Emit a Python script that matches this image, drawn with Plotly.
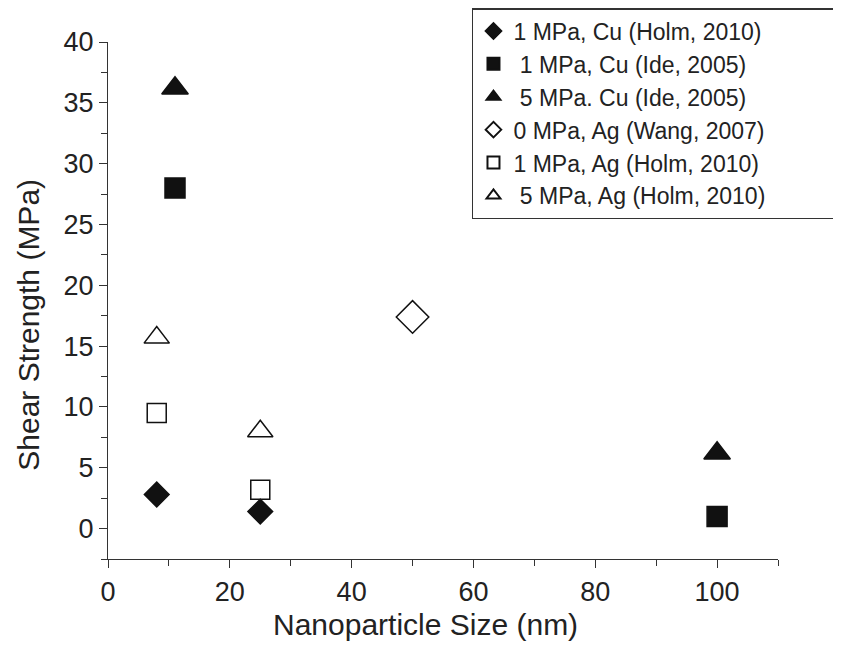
import plotly.graph_objects as go

# Data
names = [
    "1 MPa, Cu (Holm, 2010)",
    " 1 MPa, Cu (Ide, 2005)",
    " 5 MPa. Cu (Ide, 2005)",
    "0 MPa, Ag (Wang, 2007)",
    "1 MPa, Ag (Holm, 2010)",
    " 5 MPa, Ag (Holm, 2010)",
]
cu_holm_x = [8, 25]
cu_holm_y = [2.8, 1.4]
cu_ide1_x = [11, 100]
cu_ide1_y = [28, 1.0]
cu_ide5_x = [11, 100]
cu_ide5_y = [36.2, 6.2]
ag_wang_x = [50]
ag_wang_y = [17.4]
ag_holm1_x = [8, 25]
ag_holm1_y = [9.5, 3.2]
ag_holm5_x = [8, 25]
ag_holm5_y = [15.7, 8.0]

x_title = "Nanoparticle Size (nm)"
y_title = "Shear Strength (MPa)"

series = [
    (cu_holm_x, cu_holm_y, "diamond", 19),
    (cu_ide1_x, cu_ide1_y, "square", 20),
    (cu_ide5_x, cu_ide5_y, "triangle-up", 23),
    (ag_wang_x, ag_wang_y, "diamond-open", 25),
    (ag_holm1_x, ag_holm1_y, "square-open", 19),
    (ag_holm5_x, ag_holm5_y, "triangle-up-open", 22),
]

FONT = "Liberation Sans, Arial, sans-serif"
INK = "#222222"

fig = go.Figure()
for name, (xs, ys, sym, sz) in zip(names, series):
    fig.add_trace(go.Scatter(
        x=xs, y=ys, mode="markers", name=name,
        marker=dict(symbol=sym, size=sz, color="#111111",
                    line=dict(color="#111111", width=1.5)),
    ))

axis_common = dict(
    showline=True, linecolor="#333333", linewidth=1.3,
    ticks="outside", ticklen=8, tickwidth=1.3, tickcolor="#333333",
    showgrid=False, zeroline=False, mirror=False,
    tickfont=dict(family=FONT, size=27, color=INK),
)

fig.update_xaxes(
    range=[0, 110], dtick=20, tick0=0,
    minor=dict(dtick=10, ticks="outside", ticklen=6, tickwidth=1.3, tickcolor="#333333"),
    **axis_common,
)
fig.update_yaxes(
    range=[-2.5, 40], dtick=5, tick0=0,
    minor=dict(dtick=2.5, ticks="outside", ticklen=6, tickwidth=1.3, tickcolor="#333333"),
    **axis_common,
)

fig.add_annotation(text=x_title, xref="paper", yref="paper", x=0.474, y=-0.126,
                   xanchor="center", yanchor="middle", showarrow=False,
                   font=dict(family=FONT, size=30, color=INK))
fig.add_annotation(text=y_title, xref="paper", yref="paper", x=-0.118, y=0.453,
                   xanchor="center", yanchor="middle", showarrow=False, textangle=-90,
                   font=dict(family=FONT, size=30, color=INK))

fig.update_layout(
    width=833, height=638,
    margin=dict(l=100, r=63, t=34, b=87, autoexpand=False),
    plot_bgcolor="white", paper_bgcolor="white",
    legend=dict(
        xref="container", yref="container",
        x=0.557, y=1.0, xanchor="left", yanchor="top",
        orientation="h",
        bordercolor="#333333", borderwidth=1.5, bgcolor="white",
        font=dict(family=FONT, size=23, color=INK),
        itemsizing="constant", entrywidth=318, entrywidthmode="pixels",
    ),
)

fig.write_html("out.html")
